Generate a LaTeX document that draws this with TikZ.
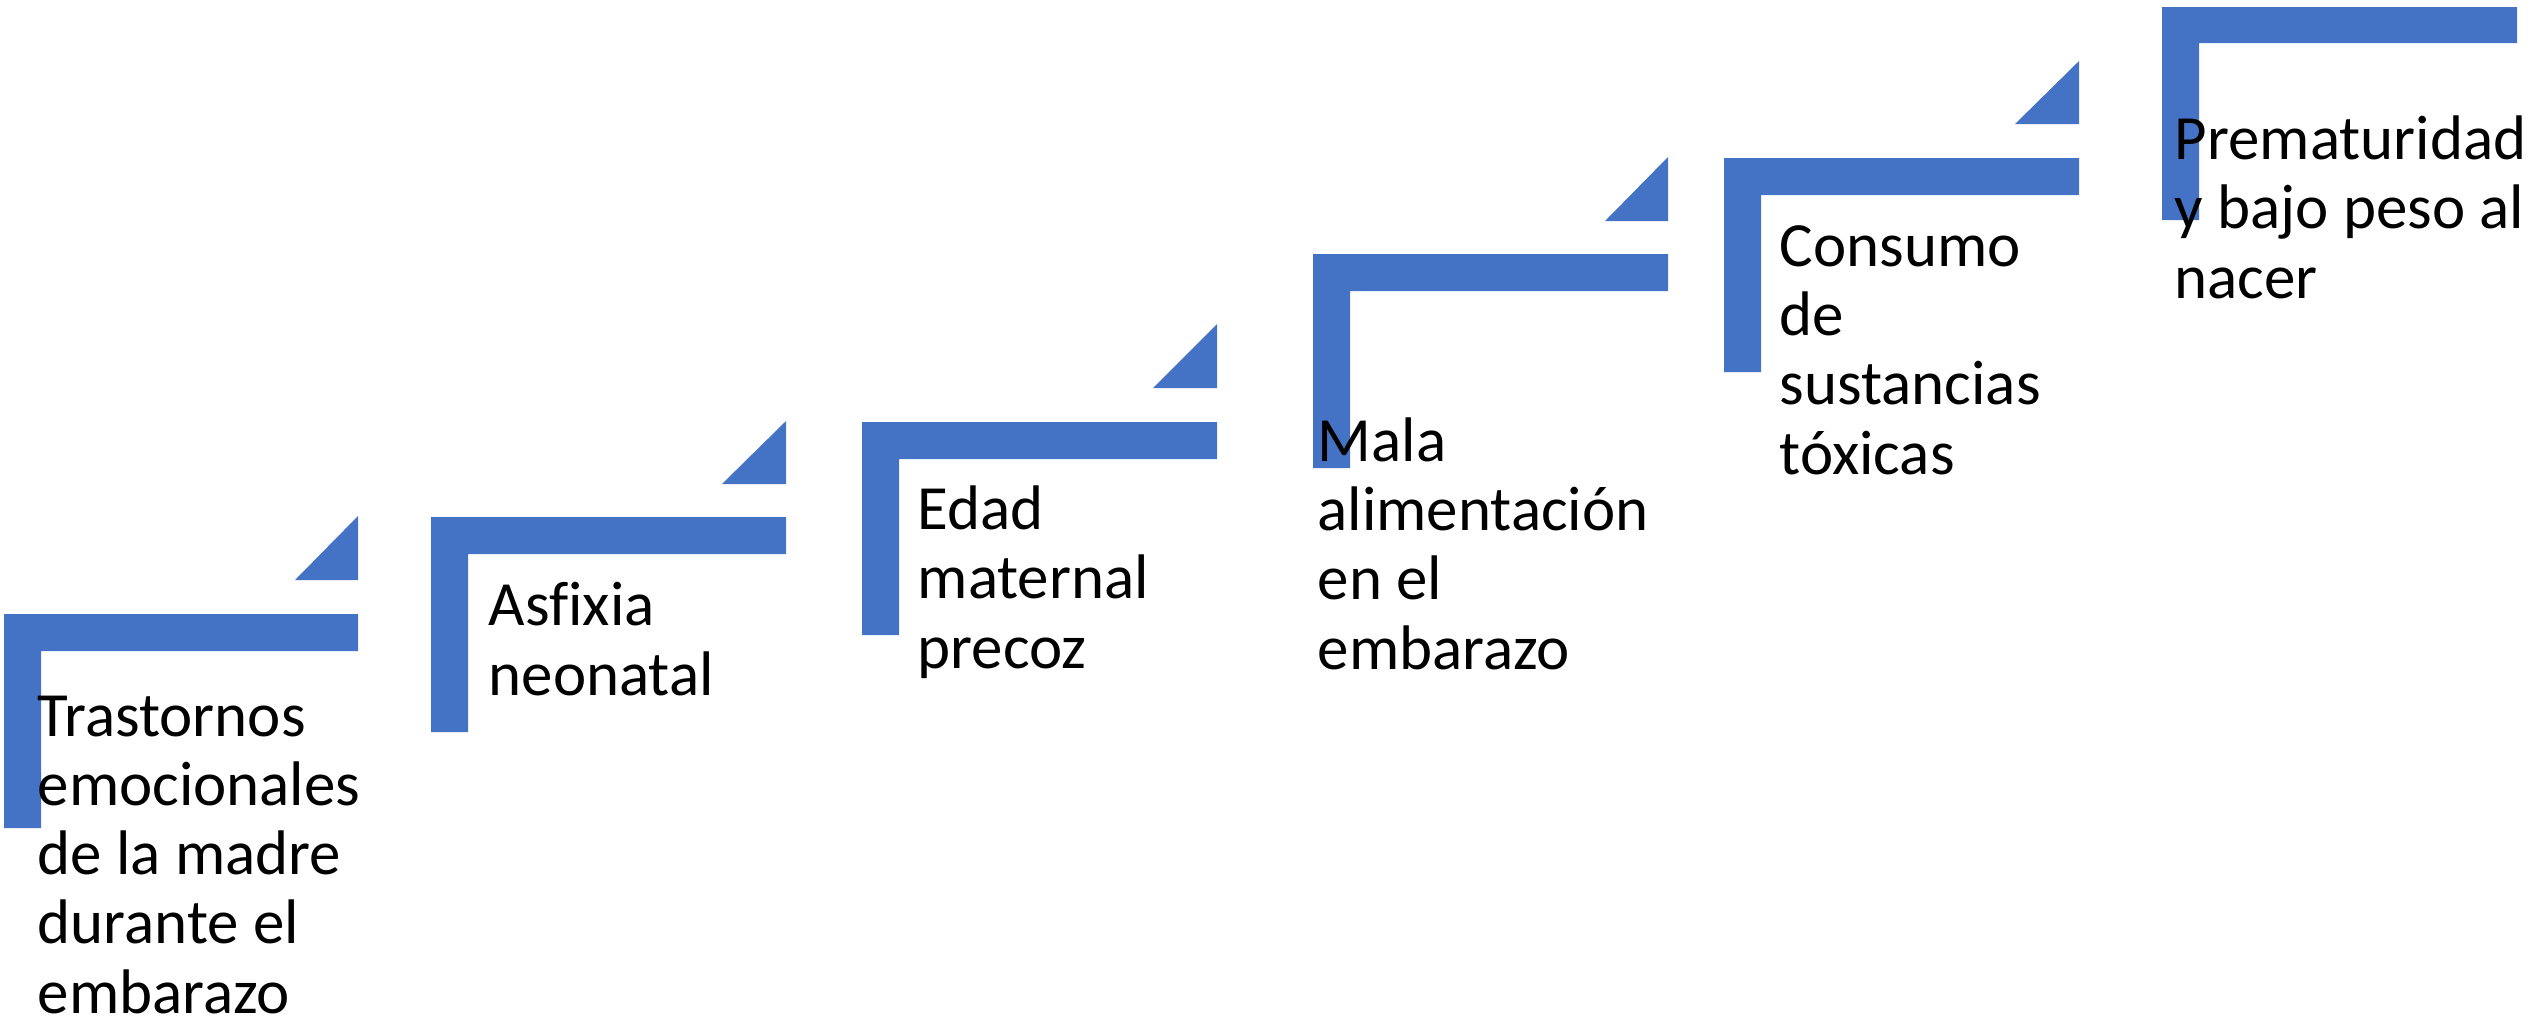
\documentclass[tikz,border=0pt]{standalone}
\usepackage{fontspec}
\setmainfont{Carlito}[Ligatures=NoCommon]
\usepackage{tikz}
\definecolor{stepblue}{HTML}{4472C4}

\tikzset{
  stepbar/.style={fill=stepblue},
  steptext/.style={anchor=base west, inner sep=0pt, align=left,
    font=\fontsize{17.9pt}{19.65pt}\selectfont}
}

\begin{document}
\begin{tikzpicture}[x=0.01cm, y=-0.01cm]
    \useasboundingbox (0,0) rectangle (2542,1023);

    % STEP 1
    \fill[stepbar] (4,614) -- (358,614) -- (358,651) -- (41,651) -- (41,828) -- (4,828) -- cycle;
    \fill[stepbar] (295,580) -- (358,516) -- (358,580) -- cycle;

    % STEP 2
    \fill[stepbar] (431,517) -- (786,517) -- (786,554) -- (468,554) -- (468,732) -- (431,732) -- cycle;
    \fill[stepbar] (722,484) -- (786,421) -- (786,484) -- cycle;

    % STEP 3
    \fill[stepbar] (862,422) -- (1217,422) -- (1217,459) -- (899,459) -- (899,635) -- (862,635) -- cycle;
    \fill[stepbar] (1153,388) -- (1217,324) -- (1217,388) -- cycle;

    % STEP 4
    \fill[stepbar] (1313,254) -- (1668,254) -- (1668,291) -- (1350,291) -- (1350,468) -- (1313,468) -- cycle;
    \fill[stepbar] (1605,221) -- (1668,157) -- (1668,221) -- cycle;

    % STEP 5
    \fill[stepbar] (1724,158) -- (2079,158) -- (2079,195) -- (1761,195) -- (1761,372) -- (1724,372) -- cycle;
    \fill[stepbar] (2015,124) -- (2079,61) -- (2079,124) -- cycle;

    % STEP 6
    \fill[stepbar] (2162,7) -- (2517,7) -- (2517,43) -- (2199,43) -- (2199,220) -- (2162,220) -- cycle;

    % Labels (placed at the baseline of their last line)
    \node[steptext] (trastornos) at (37,1013) {Trastornos\\emocionales\\de la madre\\durante el\\embarazo};
    \node[steptext] (asfixia) at (488,695) {Asfixia\\neonatal};
    \node[steptext] (edad) at (917,668) {Edad\\maternal\\precoz};
    \node[steptext] (alimentacion) at (1317,669) {Mala\\alimentación\\en el\\embarazo};
    \node[steptext] (consumo) at (1779,474) {Consumo\\de\\sustancias\\tóxicas};
    \node[steptext] (prematuridad) at (2174,298) {Prematuridad\\y bajo peso al\\nacer};
\end{tikzpicture}
\end{document}
